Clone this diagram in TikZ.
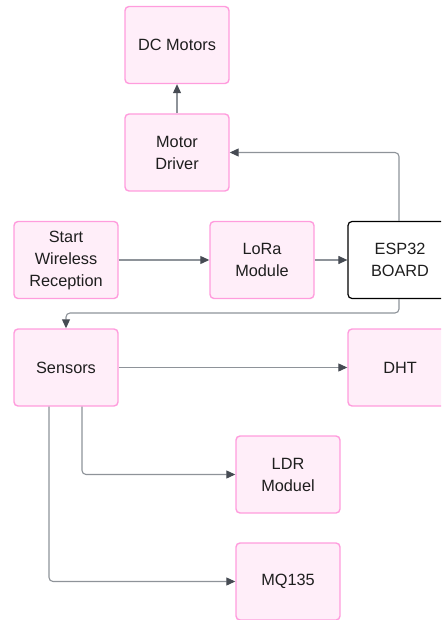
\documentclass[tikz,border=0pt]{standalone}
\usepackage{fontspec}
\setmainfont{Liberation Sans}
\usetikzlibrary{arrows.meta}
\definecolor{pinkfill}{HTML}{FFEEF9}
\definecolor{pinkdraw}{HTML}{FF9CDD}
\definecolor{linegray}{HTML}{8E9399}
\definecolor{tipgray}{HTML}{464B53}
\definecolor{txt}{HTML}{1E1E1E}
\tikzset{
  box/.style={draw=pinkdraw, fill=pinkfill, line width=1.4pt, rounded corners=4pt,
    minimum width=104pt, minimum height=77pt, inner sep=0pt, align=center,
    text=txt, font=\fontsize{16.3}{22}\selectfont},
  darkbox/.style={box, draw=black, fill=white, line width=1.2pt},
  arr/.style={draw=linegray, line width=1.1pt, rounded corners=4pt,
    -{Triangle[length=9pt,width=8pt,color=tipgray]}},
}
\begin{document}
\begin{tikzpicture}[x=1pt,y=-1pt]
\useasboundingbox (0,0) rectangle (441,620);
\clip (0,0) rectangle (441,620);
\node[box] (dc) at (177,45) {DC Motors};
\node[box] (md) at (177,152.5) {Motor\\Driver};
\node[box] (start) at (66,260) {Start\\Wireless\\Reception};
\node[box] (lora) at (262,260) {LoRa\\Module};
\node[darkbox] (esp) at (400,260) {ESP32\\BOARD};
\node[box] (sens) at (66,367.5) {Sensors};
\node[box] (dht) at (400,367.5) {DHT};
\node[box] (ldr) at (288,474.5) {LDR\\Moduel};
\node[box] (mq) at (288,581.5) {MQ135};

\draw[arr] (md.north) -- (dc.south);
\draw[arr] ([xshift=-1pt]esp.north) |- (md.east);
\draw[arr] (start.east) -- (lora.west);
\draw[arr] (lora.east) -- (esp.west);
\coordinate (bend) at (399,313);
\draw[arr] ([xshift=-1pt]esp.south) -- (bend) -| (sens.north);
\draw[arr] (sens.east) -- (dht.west);
\draw[arr] ([xshift=16pt]sens.south) |- (ldr.west);
\draw[arr] ([xshift=-17pt]sens.south) |- (mq.west);
\end{tikzpicture}
\end{document}
